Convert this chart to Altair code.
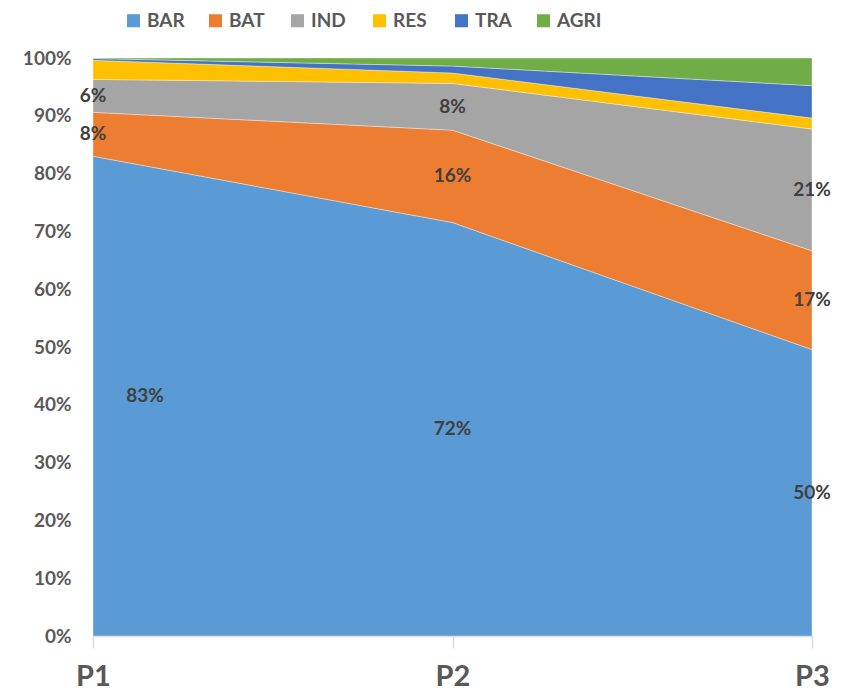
import altair as alt
import pandas as pd

periods = ["P1", "P2", "P3"]
sectors = ["BAR", "BAT", "IND", "RES", "TRA", "AGRI"]
colors = ["#5B9BD5", "#ED7D31", "#A5A5A5", "#FFC000", "#4472C4", "#70AD47"]
values = {
    "BAR": [83.0, 71.6, 49.6],
    "BAT": [7.6, 16.0, 17.1],
    "IND": [5.7, 8.1, 21.1],
    "RES": [3.3, 1.8, 1.9],
    "TRA": [0.3, 1.2, 5.6],
    "AGRI": [0.1, 1.4, 4.8],
}
labelled = ["BAR", "BAT", "IND"]

rows = []
for i, s in enumerate(sectors):
    for j, p in enumerate(periods):
        rows.append({"period": p, "sector": s, "value": values[s][j], "ord": i})
df = pd.DataFrame(rows)

FONT = "Lato"
GREY = "#595959"

x_enc = alt.X("period:O", scale=alt.Scale(domain=periods, padding=0),
              axis=alt.Axis(title=None, labelAngle=0, labelFontSize=29, labelFontWeight="bold",
                            labelColor=GREY, labelFont=FONT, domainColor="#D9D9D9", tickColor="#D9D9D9",
                            tickSize=12, labelPadding=14, domainWidth=1.5, tickWidth=1.5))

area = alt.Chart(df).mark_area(strokeWidth=0.6, stroke="#FFFFFF", strokeOpacity=0.6).encode(
    x=x_enc,
    y=alt.Y("value:Q", stack="normalize",
            scale=alt.Scale(domain=[0, 1], nice=False),
            axis=alt.Axis(title=None, format=".0%", values=[i / 10 for i in range(11)],
                          labelFontSize=19, labelFontWeight="bold", labelColor=GREY, labelFont=FONT,
                          domain=False, ticks=False, grid=False, labelPadding=22)),
    color=alt.Color("sector:N", scale=alt.Scale(domain=sectors, range=colors),
                    sort=sectors,
                    legend=alt.Legend(title=None, orient="none", direction="horizontal",
                                      legendX=31, legendY=-47, symbolType="square", symbolSize=170,
                                      symbolStrokeWidth=0, labelFontSize=19, labelFontWeight="bold",
                                      labelColor=GREY, labelFont=FONT, columnPadding=14,
                                      gridAlign="all", labelOffset=4)),
    order=alt.Order("ord:Q", sort="ascending"),
)

base_text = alt.Chart(df).transform_stack(
    stack="value", groupby=["period"], as_=["y0", "y1"], offset="normalize",
    sort=[alt.SortField("ord", order="ascending")]
).transform_calculate(
    mid="(datum.y0 + datum.y1) / 2",
    lab="format(datum.value / 100, '.0%')"
).transform_filter(
    alt.FieldOneOfPredicate(field="sector", oneOf=labelled)
)

text_main = base_text.transform_filter(
    "!(datum.period == 'P1' && datum.sector == 'BAR')"
).mark_text(fontSize=19, fontWeight="bold", color="#404040", font=FONT).encode(
    x=alt.X("period:O", scale=alt.Scale(domain=periods, padding=0)),
    y=alt.Y("mid:Q", scale=alt.Scale(domain=[0, 1], nice=False)),
    text="lab:N",
)

text_p1 = base_text.transform_filter(
    "datum.period == 'P1' && datum.sector == 'BAR'"
).mark_text(fontSize=19, fontWeight="bold", color="#404040", font=FONT, dx=52).encode(
    x=alt.X("period:O", scale=alt.Scale(domain=periods, padding=0)),
    y=alt.Y("mid:Q", scale=alt.Scale(domain=[0, 1], nice=False)),
    text="lab:N",
)

chart = alt.layer(area, text_main, text_p1).properties(
    width=719, height=578,
    autosize=alt.AutoSizeParams(type="none"),
    padding={"left": 85, "top": 50, "right": 28, "bottom": 60},
).configure_view(stroke=None)

chart.save("out.html", embed_options={"renderer": "svg", "actions": False})
